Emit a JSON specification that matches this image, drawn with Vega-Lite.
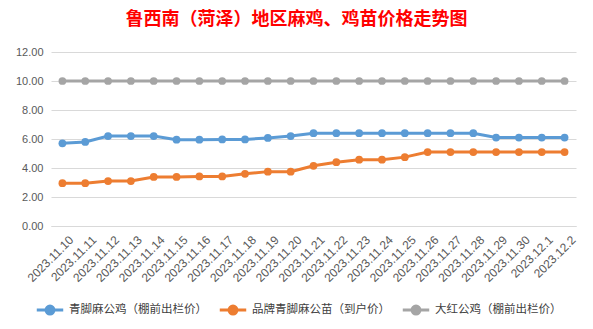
{
  "$schema": "https://vega.github.io/schema/vega-lite/v6.json",
  "autosize": "none",
  "width": 525,
  "height": 174,
  "padding": {"left": 51, "top": 52, "right": 17, "bottom": 103},
  "background": "white",
  "config": {"view": {"stroke": null}, "font": "Noto Sans CJK SC"},
  "title": {
    "text": "鲁西南（菏泽）地区麻鸡、鸡苗价格走势图",
    "color": "#FF0000",
    "fontSize": 18,
    "fontWeight": "bold",
    "font": "Noto Sans CJK SC",
    "anchor": "middle",
    "frame": "group",
    "dx": -17,
    "offset": 17
  },
  "data": {
    "values": [
      {"date": "2023.11.10", "s": "青脚麻公鸡（棚前出栏价）", "v": 5.7},
      {"date": "2023.11.11", "s": "青脚麻公鸡（棚前出栏价）", "v": 5.8},
      {"date": "2023.11.12", "s": "青脚麻公鸡（棚前出栏价）", "v": 6.2},
      {"date": "2023.11.13", "s": "青脚麻公鸡（棚前出栏价）", "v": 6.2},
      {"date": "2023.11.14", "s": "青脚麻公鸡（棚前出栏价）", "v": 6.2},
      {"date": "2023.11.15", "s": "青脚麻公鸡（棚前出栏价）", "v": 5.95},
      {"date": "2023.11.16", "s": "青脚麻公鸡（棚前出栏价）", "v": 5.95},
      {"date": "2023.11.17", "s": "青脚麻公鸡（棚前出栏价）", "v": 5.97},
      {"date": "2023.11.18", "s": "青脚麻公鸡（棚前出栏价）", "v": 5.97},
      {"date": "2023.11.19", "s": "青脚麻公鸡（棚前出栏价）", "v": 6.07},
      {"date": "2023.11.20", "s": "青脚麻公鸡（棚前出栏价）", "v": 6.2},
      {"date": "2023.11.21", "s": "青脚麻公鸡（棚前出栏价）", "v": 6.4},
      {"date": "2023.11.22", "s": "青脚麻公鸡（棚前出栏价）", "v": 6.4},
      {"date": "2023.11.23", "s": "青脚麻公鸡（棚前出栏价）", "v": 6.4},
      {"date": "2023.11.24", "s": "青脚麻公鸡（棚前出栏价）", "v": 6.4},
      {"date": "2023.11.25", "s": "青脚麻公鸡（棚前出栏价）", "v": 6.4},
      {"date": "2023.11.26", "s": "青脚麻公鸡（棚前出栏价）", "v": 6.4},
      {"date": "2023.11.27", "s": "青脚麻公鸡（棚前出栏价）", "v": 6.4},
      {"date": "2023.11.28", "s": "青脚麻公鸡（棚前出栏价）", "v": 6.4},
      {"date": "2023.11.29", "s": "青脚麻公鸡（棚前出栏价）", "v": 6.1},
      {"date": "2023.11.30", "s": "青脚麻公鸡（棚前出栏价）", "v": 6.1},
      {"date": "2023.12.1", "s": "青脚麻公鸡（棚前出栏价）", "v": 6.1},
      {"date": "2023.12.2", "s": "青脚麻公鸡（棚前出栏价）", "v": 6.1},
      {"date": "2023.11.10", "s": "品牌青脚麻公苗（到户价）", "v": 2.95},
      {"date": "2023.11.11", "s": "品牌青脚麻公苗（到户价）", "v": 2.95},
      {"date": "2023.11.12", "s": "品牌青脚麻公苗（到户价）", "v": 3.1},
      {"date": "2023.11.13", "s": "品牌青脚麻公苗（到户价）", "v": 3.1},
      {"date": "2023.11.14", "s": "品牌青脚麻公苗（到户价）", "v": 3.38},
      {"date": "2023.11.15", "s": "品牌青脚麻公苗（到户价）", "v": 3.38},
      {"date": "2023.11.16", "s": "品牌青脚麻公苗（到户价）", "v": 3.42},
      {"date": "2023.11.17", "s": "品牌青脚麻公苗（到户价）", "v": 3.42},
      {"date": "2023.11.18", "s": "品牌青脚麻公苗（到户价）", "v": 3.6},
      {"date": "2023.11.19", "s": "品牌青脚麻公苗（到户价）", "v": 3.75},
      {"date": "2023.11.20", "s": "品牌青脚麻公苗（到户价）", "v": 3.75},
      {"date": "2023.11.21", "s": "品牌青脚麻公苗（到户价）", "v": 4.15},
      {"date": "2023.11.22", "s": "品牌青脚麻公苗（到户价）", "v": 4.4},
      {"date": "2023.11.23", "s": "品牌青脚麻公苗（到户价）", "v": 4.57},
      {"date": "2023.11.24", "s": "品牌青脚麻公苗（到户价）", "v": 4.57},
      {"date": "2023.11.25", "s": "品牌青脚麻公苗（到户价）", "v": 4.75},
      {"date": "2023.11.26", "s": "品牌青脚麻公苗（到户价）", "v": 5.1},
      {"date": "2023.11.27", "s": "品牌青脚麻公苗（到户价）", "v": 5.1},
      {"date": "2023.11.28", "s": "品牌青脚麻公苗（到户价）", "v": 5.1},
      {"date": "2023.11.29", "s": "品牌青脚麻公苗（到户价）", "v": 5.1},
      {"date": "2023.11.30", "s": "品牌青脚麻公苗（到户价）", "v": 5.1},
      {"date": "2023.12.1", "s": "品牌青脚麻公苗（到户价）", "v": 5.1},
      {"date": "2023.12.2", "s": "品牌青脚麻公苗（到户价）", "v": 5.1},
      {"date": "2023.11.10", "s": "大红公鸡（棚前出栏价）", "v": 10},
      {"date": "2023.11.11", "s": "大红公鸡（棚前出栏价）", "v": 10},
      {"date": "2023.11.12", "s": "大红公鸡（棚前出栏价）", "v": 10},
      {"date": "2023.11.13", "s": "大红公鸡（棚前出栏价）", "v": 10},
      {"date": "2023.11.14", "s": "大红公鸡（棚前出栏价）", "v": 10},
      {"date": "2023.11.15", "s": "大红公鸡（棚前出栏价）", "v": 10},
      {"date": "2023.11.16", "s": "大红公鸡（棚前出栏价）", "v": 10},
      {"date": "2023.11.17", "s": "大红公鸡（棚前出栏价）", "v": 10},
      {"date": "2023.11.18", "s": "大红公鸡（棚前出栏价）", "v": 10},
      {"date": "2023.11.19", "s": "大红公鸡（棚前出栏价）", "v": 10},
      {"date": "2023.11.20", "s": "大红公鸡（棚前出栏价）", "v": 10},
      {"date": "2023.11.21", "s": "大红公鸡（棚前出栏价）", "v": 10},
      {"date": "2023.11.22", "s": "大红公鸡（棚前出栏价）", "v": 10},
      {"date": "2023.11.23", "s": "大红公鸡（棚前出栏价）", "v": 10},
      {"date": "2023.11.24", "s": "大红公鸡（棚前出栏价）", "v": 10},
      {"date": "2023.11.25", "s": "大红公鸡（棚前出栏价）", "v": 10},
      {"date": "2023.11.26", "s": "大红公鸡（棚前出栏价）", "v": 10},
      {"date": "2023.11.27", "s": "大红公鸡（棚前出栏价）", "v": 10},
      {"date": "2023.11.28", "s": "大红公鸡（棚前出栏价）", "v": 10},
      {"date": "2023.11.29", "s": "大红公鸡（棚前出栏价）", "v": 10},
      {"date": "2023.11.30", "s": "大红公鸡（棚前出栏价）", "v": 10},
      {"date": "2023.12.1", "s": "大红公鸡（棚前出栏价）", "v": 10},
      {"date": "2023.12.2", "s": "大红公鸡（棚前出栏价）", "v": 10}
    ]
  },
  "encoding": {
    "x": {
      "field": "date",
      "type": "ordinal",
      "sort": null,
      "scale": {"type": "point", "padding": 0.5},
      "axis": {
        "title": null,
        "labelAngle": -45,
        "labelFontSize": 12,
        "labelFont": "Liberation Sans",
        "labelColor": "#595959",
        "ticks": false,
        "labelPadding": 8,
        "labelOffset": 5,
        "domainColor": "#D9D9D9",
        "grid": false
      }
    },
    "y": {
      "field": "v",
      "type": "quantitative",
      "scale": {"domain": [0, 12]},
      "axis": {
        "title": null,
        "values": [0, 2, 4, 6, 8, 10, 12],
        "format": ".2f",
        "labelFontSize": 11,
        "labelFont": "Liberation Sans",
        "labelColor": "#595959",
        "ticks": false,
        "domain": false,
        "gridColor": "#D9D9D9",
        "labelPadding": 8
      }
    },
    "color": {
      "field": "s",
      "type": "nominal",
      "sort": null,
      "scale": {
        "domain": ["青脚麻公鸡（棚前出栏价）", "品牌青脚麻公苗（到户价）", "大红公鸡（棚前出栏价）"],
        "range": ["#5B9BD5", "#ED7D31", "#A5A5A5"]
      },
      "legend": {
        "title": null,
        "orient": "none",
        "legendX": -16,
        "legendY": 243,
        "direction": "horizontal",
        "labelFontSize": 11.5,
        "labelFont": "Noto Sans CJK SC",
        "labelColor": "#404040",
        "labelLimit": 300,
        "symbolType": "M -1 0 L 1 0 M -0.3 0 A 0.3 0.3 0 1 1 0.3 0 A 0.3 0.3 0 1 1 -0.3 0",
        "symbolSize": 700,
        "symbolStrokeWidth": 3,
        "columnPadding": 6,
        "labelOffset": 4,
        "encode": {
          "symbols": {"update": {"fill": {"scale": "color", "field": "value"}}}
        }
      }
    }
  },
  "layer": [
    {"mark": {"type": "line", "strokeWidth": 3}},
    {"mark": {"type": "circle", "size": 60, "opacity": 1}}
  ]
}
